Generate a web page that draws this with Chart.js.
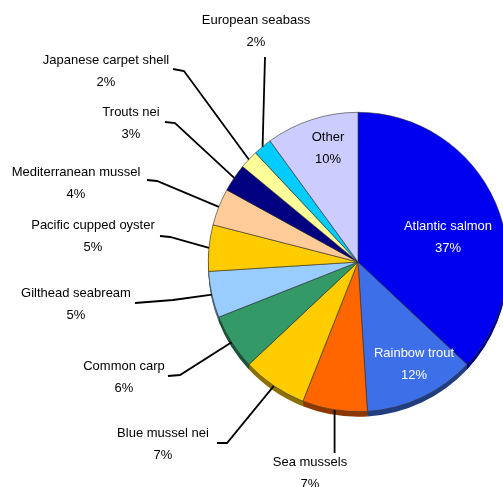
<!DOCTYPE html>
<html>
<head>
<meta charset="utf-8">
<script src="https://cdn.jsdelivr.net/npm/chart.js@4/dist/chart.umd.min.js"></script>
<style>
  html, body { margin: 0; padding: 0; background: #fff; overflow: hidden; }
  #wrap { width: 716px; height: 487px; }
</style>
</head>
<body>
<div id="wrap"><canvas id="pieChart" width="716" height="487"></canvas></div>
<script>
// Data
const categories = ['Atlantic salmon', 'Rainbow trout', 'Sea mussels', 'Blue mussel nei', 'Common carp',
  'Gilthead seabream', 'Pacific cupped oyster', 'Mediterranean mussel', 'Trouts nei',
  'Japanese carpet shell', 'European seabass', 'Other'];
const shares = [37, 12, 7, 7, 6, 5, 5, 4, 3, 2, 2, 10];
const sliceColors = ['#0000f0', '#3d70e8', '#ff6600', '#ffcc00', '#339966', '#99ccff',
  '#ffcc00', '#ffcc99', '#000080', '#ffff99', '#00ccff', '#ccccff'];

// label text centre (x, y of first line) and start/elbow of its leader line
const labelSpots = [
  { x: 448, y: 226, color: '#fff' },
  { x: 414, y: 353, color: '#fff' },
  { x: 310, y: 462, lead: [[null, 453]] },
  { x: 163, y: 433, lead: [[217, 443], [227, 443]] },
  { x: 124, y: 366, lead: [[168, 376], [180, 375]] },
  { x: 76, y: 293, lead: [[135, 303], [173, 300]] },
  { x: 93, y: 225, lead: [[160, 236], [170, 237]] },
  { x: 76, y: 172, lead: [[147, 180], [157, 181]] },
  { x: 131, y: 112, lead: [[165, 122], [175, 123]] },
  { x: 106, y: 60, lead: [[173, 69], [184, 71]] },
  { x: 256, y: 20, lead: [[265, 57]] },
  { x: 328, y: 137, color: '#000' }
];

function darker(hex, f) {
  const n = parseInt(hex.slice(1), 16);
  const r = Math.round(((n >> 16) & 255) * f), g = Math.round(((n >> 8) & 255) * f), b = Math.round((n & 255) * f);
  return 'rgb(' + r + ',' + g + ',' + b + ')';
}

// thin 3D rim under the pie
const depthPlugin = {
  id: 'depth',
  beforeDatasetsDraw(chart) {
    const ctx = chart.ctx;
    const arcs = chart.getDatasetMeta(0).data;
    ctx.save();
    for (let d = 5; d > 0; d--) {
      arcs.forEach((a, i) => {
        ctx.beginPath();
        ctx.moveTo(a.x, a.y + d);
        ctx.arc(a.x, a.y + d, a.outerRadius, a.startAngle, a.endAngle);
        ctx.closePath();
        ctx.fillStyle = darker(sliceColors[i], 0.55);
        ctx.fill();
      });
    }
    ctx.restore();
  }
};

// labels and leader lines
const labelPlugin = {
  id: 'sliceLabels',
  afterDatasetsDraw(chart) {
    const ctx = chart.ctx;
    const arcs = chart.getDatasetMeta(0).data;
    ctx.save();
    ctx.font = '13px "Liberation Sans", Arial, sans-serif';
    ctx.textAlign = 'center';
    ctx.textBaseline = 'middle';
    arcs.forEach((a, i) => {
      const spot = labelSpots[i];
      if (spot.lead) {
        const mid = (a.startAngle + a.endAngle) / 2;
        const ex = a.x + Math.cos(mid) * a.outerRadius;
        const ey = a.y + Math.sin(mid) * a.outerRadius;
        const pts = spot.lead.map(p => [p[0] === null ? ex : p[0], p[1]]);
        ctx.beginPath();
        ctx.moveTo(pts[0][0], pts[0][1]);
        pts.slice(1).forEach(p => ctx.lineTo(p[0], p[1]));
        ctx.lineTo(ex, ey);
        ctx.strokeStyle = '#000';
        ctx.lineWidth = 1.8;
        ctx.stroke();
      }
      ctx.fillStyle = spot.color || '#000';
      ctx.fillText(categories[i], spot.x, spot.y);
      ctx.fillText(shares[i] + '%', spot.x, spot.y + 22);
    });
    ctx.restore();
  }
};

const ctx = document.getElementById('pieChart').getContext('2d');
new Chart(ctx, {
  type: 'pie',
  data: {
    labels: categories,
    datasets: [{
      data: shares,
      backgroundColor: sliceColors,
      borderColor: '#333',
      borderWidth: 0.6
    }]
  },
  options: {
    responsive: false,
    animation: false,
    devicePixelRatio: 1,
    events: [],
    layout: { padding: { top: 112, bottom: 75, left: 0, right: 0 } },
    plugins: {
      legend: { display: false },
      tooltip: { enabled: false }
    }
  },
  plugins: [depthPlugin, labelPlugin]
});
</script>
</body>
</html>
